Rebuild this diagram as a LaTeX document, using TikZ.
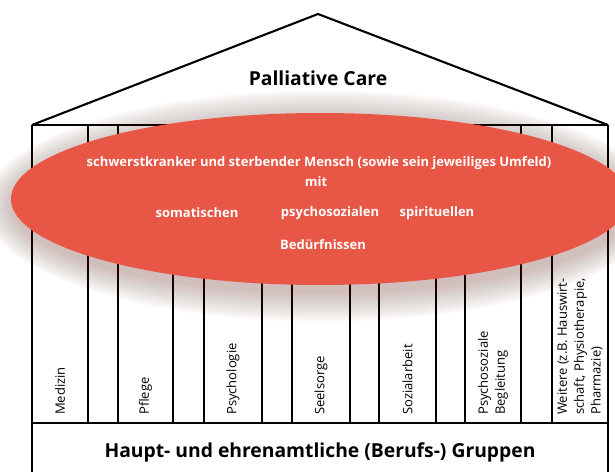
\documentclass[tikz,border=0pt]{standalone}
\usepackage{fontspec}
\setmainfont{Open Sans}
\begin{document}
\begin{tikzpicture}[x=1pt,y=-1pt,
  wall/.style={line width=2.6pt},
  roofline/.style={line width=2.1pt, line join=miter},
  bubble/.style={fill=bubblered, draw=none},
  bubtext/.style={text=white, font=\fontsize{13}{15}\selectfont\bfseries, inner sep=0pt},
  collabel/.style={rotate=90, anchor=west, align=left, inner sep=0pt,
    font=\fontsize{13}{16.8}\selectfont},
  title/.style={font=\fontsize{19.3}{22}\selectfont\bfseries, inner sep=0pt}]
\definecolor{bubblered}{HTML}{E85645}
\definecolor{shadowc}{HTML}{8A4A44}
\useasboundingbox (0,0) rectangle (615,471);
\fill[white] (0,0) rectangle (615,471);
% roof
\draw[roofline] (32,125) -- (318,14) -- (608,125);
\node[title] (pc) at (318,78) {Palliative Care};
% columns
\draw[wall] (32,125) -- (608,125);
\foreach \xx in {32,88,118,173,204,262,292,350,379,436,465,521,552,608}
  \draw[wall] (\xx,125) -- (\xx,423);
% base
\draw[wall] (32,480) -- (32,423) -- (608,423) -- (608,480);
\node[title] (base) at (320,452) {Haupt- und ehrenamtliche (Berufs-) Gruppen};
% labels
\node[collabel] (l1) at (60,415) {Medizin};
\node[collabel] (l2) at (145.5,415) {Pflege};
\node[collabel] (l3) at (233,415) {Psychologie};
\node[collabel] (l4) at (321,415) {Seelsorge};
\node[collabel] (l5) at (407.5,415) {Sozialarbeit};
\node[collabel] (l6) at (493,415) {Psychosoziale\\Begleitung};
\node[collabel] (l7) at (580,415) {Weitere (z.B. Hauswirt-\\schaft, Physiotherapie,\\Pharmazie)};
% shadow
\foreach \i in {0,...,29}
  \fill[shadowc, opacity=0.013] (322,206) ellipse ({309+30-\i} and {86+30-\i});
% bubble
\fill[bubble] (320,199) ellipse (309 and 86);
\node[bubtext] (b1) at (319,163) {schwerstkranker und sterbender Mensch (sowie sein jeweiliges Umfeld)};
\node[bubtext] (b2) at (316,182) {mit};
\node[bubtext] (b3) at (197,213) {somatischen};
\node[bubtext] (b4) at (330,213) {psychosozialen};
\node[bubtext] (b5) at (437,213) {spirituellen};
\node[bubtext] (b6) at (323,245) {Bedürfnissen};
\end{tikzpicture}
\end{document}
